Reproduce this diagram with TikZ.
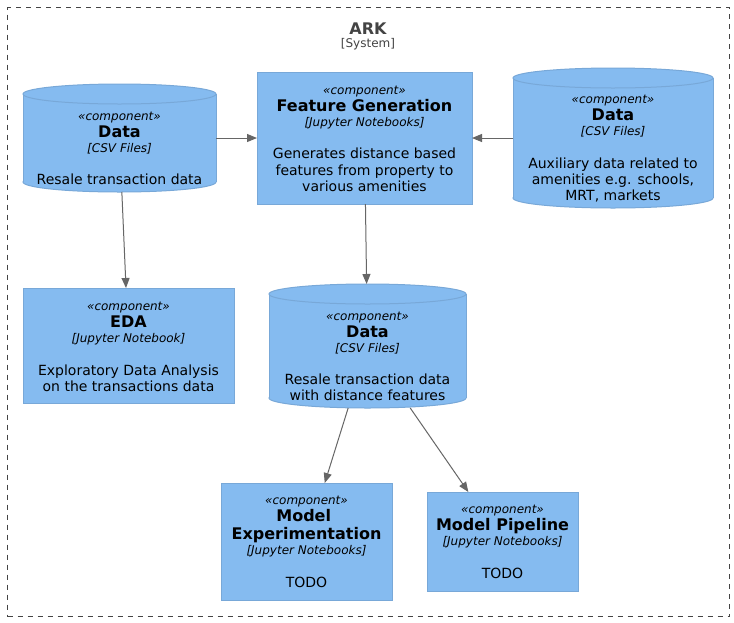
\documentclass[tikz,border=0pt]{standalone}
\usepackage{fontspec}
\setmainfont{DejaVu Sans}
\usetikzlibrary{arrows.meta,calc}
\definecolor{compc}{HTML}{85BBF0}
\definecolor{bordc}{HTML}{78A8D8}
\definecolor{arrc}{HTML}{666666}
\definecolor{framec}{HTML}{444444}
\newcommand\dbdraw[1]{%
 \path[draw=bordc,fill=compc,line width=1pt] let \p1=(#1.north west),\p2=(#1.south east) in ({(\x1+\x2)/2},{\y2+10pt}) ellipse [x radius={(\x2-\x1)/2}, y radius=10pt];
 \path[fill=compc] let \p1=(#1.north west),\p2=(#1.south east) in (\x1,{\y1-10pt}) rectangle (\x2,{\y2+10pt});
 \path[draw=bordc,line width=1pt] let \p1=(#1.north west),\p2=(#1.south east) in (\x1,{\y1-10pt}) -- (\x1,{\y2+10pt}) (\x2,{\y1-10pt}) -- (\x2,{\y2+10pt});
 \path[draw=bordc,fill=compc,line width=1pt] let \p1=(#1.north west),\p2=(#1.south east) in ({(\x1+\x2)/2},{\y1-10pt}) ellipse [x radius={(\x2-\x1)/2}, y radius=10pt];
}
\tikzset{
 comp/.style={rectangle, draw=bordc, fill=compc, line width=1pt, inner sep=0pt, outer sep=0pt},
 dbbox/.style={rectangle, inner sep=0pt, outer sep=0pt},
 arr/.style={draw=arrc, line width=1pt, -{Triangle[length=10pt,width=8pt]}},
 txt/.style={anchor=base, inner sep=0pt, outer sep=0pt},
 st/.style={txt, font=\fontsize{12}{14}\selectfont\itshape, yshift=-2pt},
 nm/.style={txt, font=\fontsize{16}{19}\selectfont\bfseries},
 te/.style={txt, font=\fontsize{12}{14}\selectfont\itshape, yshift=-2pt},
 de/.style={txt, font=\fontsize{14}{16.5}\selectfont},
 frame/.style={draw=framec, line width=1pt, dash pattern=on 5pt off 5pt},
}
\begin{document}
\begin{tikzpicture}[x=1pt,y=-1pt]
\useasboundingbox (0,0) rectangle (734,622);
\fill[white] (0,0) rectangle (734,622);
% system frame
\node[frame, rectangle, minimum width=722pt, minimum height=609pt, inner sep=0pt] (sys) at (368.5,312) {};
\node[txt, font=\fontsize{16}{19}\selectfont\bfseries, text=framec] (sysname) at (368,34.3) {ARK};
\node[txt, font=\fontsize{12}{14}\selectfont, text=framec] (systype) at (368,47.5) {[System]};

% shapes
\node[dbbox, minimum width=193pt, minimum height=108pt] (d1) at (119.5,138) {};
\node[comp, minimum width=215pt, minimum height=132pt] (fg) at (364.5,138) {};
\node[dbbox, minimum width=200pt, minimum height=140pt] (d3) at (613,138) {};
\node[comp, minimum width=211pt, minimum height=115pt] (eda) at (128.5,345.5) {};
\node[dbbox, minimum width=197pt, minimum height=124pt] (d2) at (367.5,346) {};
\node[comp, minimum width=171pt, minimum height=117pt] (mexp) at (306.5,541.5) {};
\node[comp, minimum width=151pt, minimum height=99pt] (mpipe) at (502.5,541.5) {};
\dbdraw{d1}
\dbdraw{d3}
\dbdraw{d2}

% texts: Data 1
\node[st] (d1s) at (119.5,118) {«component»};
\node[nm] (d1n) at (119.5,137) {Data};
\node[te] (d1t) at (119.5,150) {[CSV Files]};
\node[de] (d1d) at (119.5,184.5) {Resale transaction data};
% Feature Generation
\node[st] (fgs) at (364.5,92.2) {«component»};
\node[nm] (fgn) at (364.5,111.2) {Feature Generation};
\node[te] (fgt) at (364.5,124.2) {[Jupyter Notebooks]};
\node[de] (fgd1) at (364.5,158.7) {Generates distance based};
\node[de] (fgd2) at (364.5,175) {features from property to};
\node[de] (fgd3) at (364.5,191.3) {various amenities};
% Data 3
\node[st] (d3s) at (613,101.5) {«component»};
\node[nm] (d3n) at (613,120.5) {Data};
\node[te] (d3t) at (613,133.5) {[CSV Files]};
\node[de] (d3d1) at (613,168) {Auxiliary data related to};
\node[de] (d3d2) at (613,184.3) {amenities e.g. schools,};
\node[de] (d3d3) at (613,200.6) {MRT, markets};
% EDA
\node[st] (edas) at (128.5,308.5) {«component»};
\node[nm] (edan) at (128.5,327.5) {EDA};
\node[te] (edat) at (128.5,340.5) {[Jupyter Notebook]};
\node[de] (edad1) at (128.5,375) {Exploratory Data Analysis};
\node[de] (edad2) at (128.5,391.3) {on the transactions data};
% Data 2
\node[st] (d2s) at (367.5,318) {«component»};
\node[nm] (d2n) at (367.5,337) {Data};
\node[te] (d2t) at (367.5,350) {[CSV Files]};
\node[de] (d2d1) at (367.5,384.5) {Resale transaction data};
\node[de] (d2d2) at (367.5,400.8) {with distance features};
% Model Experimentation
\node[st] (mexps) at (306.5,502) {«component»};
\node[nm] (mexpn1) at (303.7,521) {Model};
\node[nm] (mexpn2) at (306.5,539.5) {Experimentation};
\node[te] (mexpt) at (306.5,552.5) {[Jupyter Notebooks]};
\node[de] (mexpd) at (306.5,587) {TODO};
% Model Pipeline
\node[st] (mpipes) at (502.5,511.5) {«component»};
\node[nm] (mpipen) at (502.5,530.5) {Model Pipeline};
\node[te] (mpipet) at (502.5,543.5) {[Jupyter Notebooks]};
\node[de] (mpiped) at (502.5,578) {TODO};

% connectors
\draw[arr] (d1) -- (fg);
\draw[arr] (d3) -- (fg);
\draw[arr] (d1) -- (eda);
\draw[arr] (fg) -- (d2);
\draw[arr] (d2) -- (mexp);
\draw[arr] (d2) -- (mpipe);
\end{tikzpicture}
\end{document}
